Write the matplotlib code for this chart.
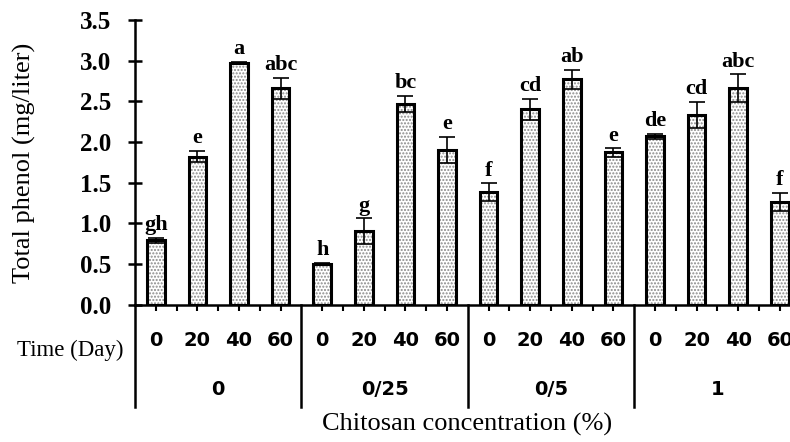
import numpy as np
import matplotlib.pyplot as plt
import matplotlib.transforms as mtransforms

# chitosan concentration groups and sampling days
groups = ['0', '0/25', '0/5', '1']
days = ['0', '20', '40', '60']

# total phenol (mg/liter), 4 days per group
means = [0.79, 1.82, 2.97, 2.66,
         0.50, 0.90, 2.47, 1.90,
         1.38, 2.40, 2.77, 1.87,
         2.07, 2.33, 2.66, 1.26]
errors = [0.03, 0.07, 0.01, 0.13,
          0.01, 0.16, 0.10, 0.16,
          0.11, 0.13, 0.12, 0.05,
          0.03, 0.16, 0.17, 0.11]
letters = ['gh', 'e', 'a', 'abc',
           'h', 'g', 'bc', 'e',
           'f', 'cd', 'ab', 'e',
           'de', 'cd', 'abc', 'f']

yticks = [0.0, 0.5, 1.0, 1.5, 2.0, 2.5, 3.0, 3.5]

serif = 'Liberation Serif'
sans = 'DejaVu Sans'
plt.rcParams['hatch.linewidth'] = 1.0


def main():
    fig = plt.figure(figsize=(7.9, 4.42), dpi=100)
    ax = fig.add_axes([135 / 790, 1 - 304.5 / 442, 655 / 790, 284.5 / 442])

    n = len(days)
    x = np.arange(len(means))
    w = 0.42
    # dotted fill, then thick black outline
    ax.bar(x, means, width=w, color='white', edgecolor='#8a8a8a',
           hatch='.....', linewidth=0, zorder=2)
    ax.bar(x, means, width=w, fill=False, edgecolor='black',
           linewidth=2.2, zorder=3)
    ax.errorbar(x, means, yerr=errors, fmt='none', ecolor='black',
                elinewidth=1.2, capsize=6, capthick=1.2, zorder=4)

    for xi, m, e, lab in zip(x, means, errors, letters):
        ax.annotate(lab, (xi, m + e), xytext=(0, 2), textcoords='offset points',
                    ha='center', va='bottom', fontsize=16, fontweight='bold',
                    family=serif)

    ax.set_ylim(0, 3.5)
    ax.set_xlim(-0.5, -0.5 + 655 / 41.6)
    ax.set_yticks(yticks)
    ax.set_yticklabels([f'{v:.1f}' for v in yticks], fontsize=18,
                       fontweight='bold', family=serif)
    ax.tick_params(axis='y', direction='inout', length=10, width=1.8, pad=12)

    # small ticks at bar centres and between bars inside each group
    xt = [g * n + k * 0.5 for g in range(len(groups)) for k in range(2 * n - 1)]
    ax.set_xticks(xt)
    ax.set_xticklabels([])
    ax.tick_params(axis='x', direction='out', length=4, width=1.5)

    for s in ['top', 'right']:
        ax.spines[s].set_visible(False)
    ax.spines['left'].set_linewidth(1.8)
    ax.spines['bottom'].set_linewidth(1.8)

    trans = mtransforms.blended_transform_factory(ax.transData, ax.transAxes)
    # group dividers below the axis
    for g in range(len(groups) + 1):
        xd = g * n - 0.5
        ax.plot([xd, xd], [0, -0.36], color='black', lw=1.8,
                transform=trans, clip_on=False)
    for i, d in enumerate(days * len(groups)):
        ax.text(i, -0.125, d, transform=trans, ha='center', va='center',
                fontsize=14, fontweight='bold', family=sans)
    for g, lab in enumerate(groups):
        ax.text(g * n + (n - 1) / 2, -0.30, lab, transform=trans,
                ha='center', va='center', fontsize=14, fontweight='bold',
                family=sans)

    fig.text(70 / 790, 1 - 350 / 442, 'Time (Day)', ha='center', va='center',
             fontsize=16.5, family=serif)
    fig.text(467 / 790, 1 - 424 / 442, 'Chitosan concentration (%)',
             ha='center', va='center', fontsize=19, family=serif)
    fig.text(24 / 790, 1 - 163 / 442, 'Total phenol (mg/liter)', rotation=90,
             ha='center', va='center', fontsize=19, family=serif)

    fig.savefig('out.png', dpi=100)


if __name__ == "__main__":
    main()
